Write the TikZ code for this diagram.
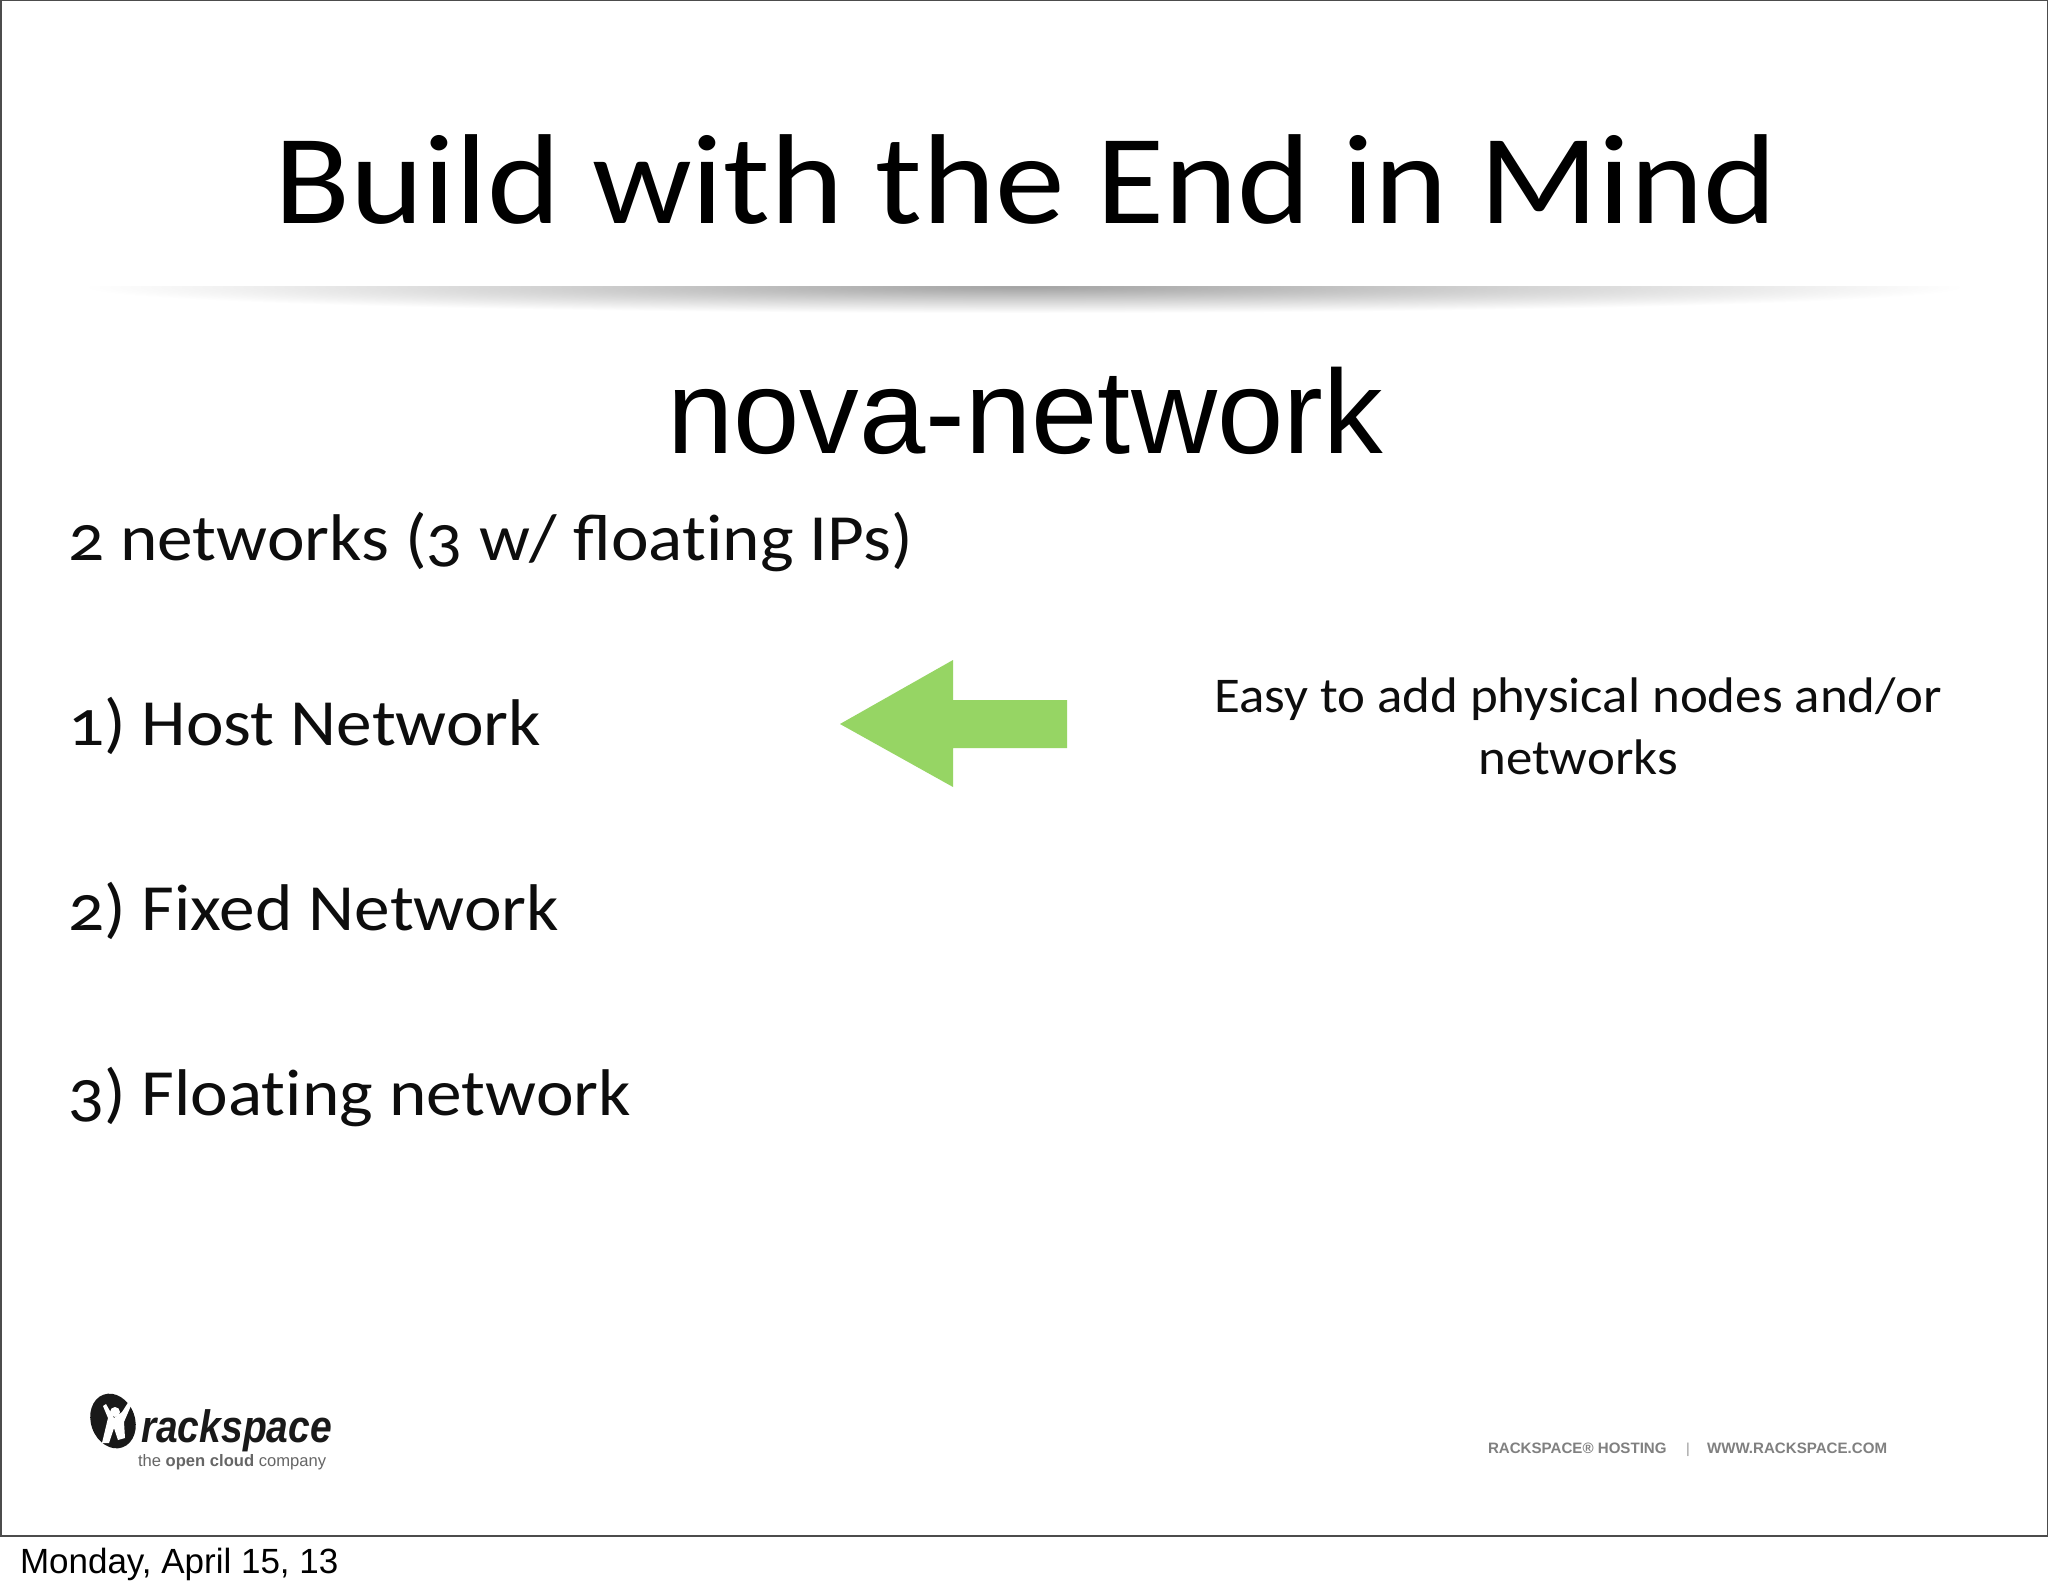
\documentclass[tikz,border=0pt]{standalone}
\usepackage{fontspec}
\setmainfont[Numbers=OldStyle]{Carlito}
\setsansfont{Liberation Sans}
\usetikzlibrary{positioning}
\tikzset{>=latex, inner sep=0pt, outer sep=0pt, x=0.5pt, y=-0.5pt}
\tikzstyle{line} = [anchor=base west, xscale=1.08, font=\fontsize{33}{33}\selectfont, text=black!95]
\tikzstyle{footer} = [anchor=base west, font=\sffamily\bfseries\fontsize{7.55}{7.55}\selectfont, text=black!50]
\definecolor{arrowgreen}{RGB}{150,213,100}

\begin{document}
\begin{tikzpicture}
	\useasboundingbox (0,0) rectangle (2048,1593);
	\fill [white] (0,0) rectangle (2048,1593);

	% slide frame
	\draw [black!70, line width=1pt] (0.5,0.5) rectangle (2047.5,1536);

	% rule below the title
	\begin{scope}
		\clip (80,287) rectangle (1970,330);
		\shade [inner color=black!36, outer color=white] (1024,287) ellipse (940 and 26);
	\end{scope}

	\node [anchor=base, xscale=1.09, font=\fontsize{64}{64}\selectfont] (title) at (1026,224) {Build with the End in Mind};
	\node [anchor=base, font=\sffamily\fontsize{59.6}{59.6}\selectfont] (subtitle) at (1025,453) {nova-network};

	\node [line] (intro) at (68,560) {2 networks (3 w/ float\kern0pt ing IPs)};
	\node [line] (host) at (68,745) {1) Host Network};
	\node [line] (fixed) at (68,930) {2) Fixed Network};
	\node [line] (floating) at (68,1115) {3) Float\kern0pt ing network};

	% green arrow
	\fill [arrowgreen] (840,724) -- (953,660) -- (953,700) -- (1067,700) -- (1067,748) -- (953,748) -- (953,787) -- cycle;

	\node [align=center, xscale=1.058, font=\fontsize{25}{31}\selectfont, text=black!95] (note) at (1578,726) {Easy to add physical nodes and/or\\networks};

	% logo
	\fill [black!90, rotate around={20:(113,1421)}] (113,1421) ellipse (22 and 28);
	\fill [white] (115,1412) circle (5);
	\fill [white] (102,1443) -- (108,1418) -- (103,1406) -- (106,1404) -- (114,1418) -- (122,1412) -- (131,1398) -- (133,1401) -- (124,1422) -- (125,1438) -- (118,1440) -- (114,1428) -- (109,1443) -- cycle;
	\node [anchor=base west, xscale=0.86, font=\sffamily\bfseries\itshape\fontsize{22.7}{22.7}\selectfont, text=black!90] (logo) at (141,1442) {rackspace};
	\node [anchor=base west, font=\sffamily\fontsize{8.3}{8.3}\selectfont, text=black!60] (tagline) at (138,1466) {the \textbf{open cloud} company};

	\node [footer] (hosting) at (1488,1453) {RACKSPACE® HOSTING};
	\node [footer, text=black!40, font=\sffamily\fontsize{7.2}{7.2}\selectfont] (sep) at (1686,1453) {|};
	\node [footer] (website) at (1707,1453) {WWW.RACKSPACE.COM};

	\node [anchor=base west, font=\sffamily\fontsize{17.5}{17.5}\selectfont] (date) at (20,1573) {Monday, April 15, 13};
\end{tikzpicture}
\end{document}
